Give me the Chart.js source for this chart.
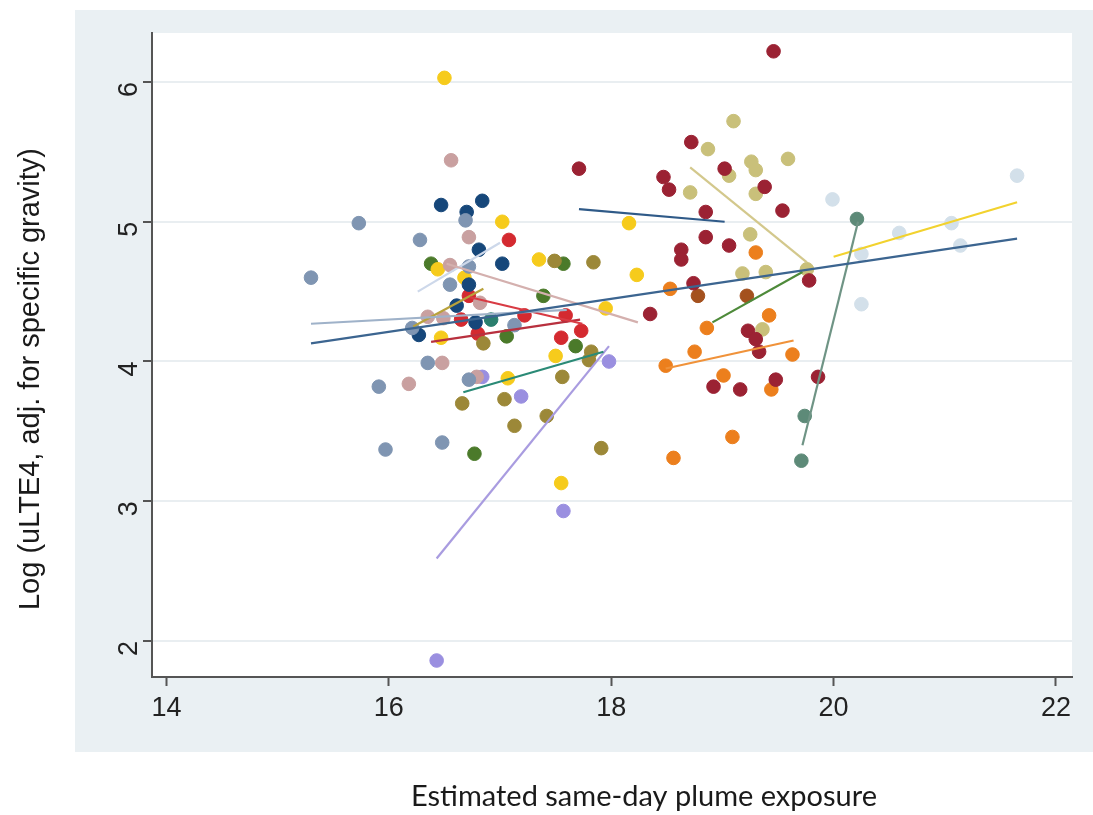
<!DOCTYPE html>
<html>
<head>
<meta charset="utf-8">
<script src="https://cdn.jsdelivr.net/npm/chart.js@4.4.1/dist/chart.umd.min.js"></script>
<style>
  html, body { margin: 0; padding: 0; background: #ffffff; }
  #wrap { width: 1093px; height: 815px; }
</style>
</head>
<body>
<div id="wrap"><canvas id="c" width="1093" height="815"></canvas></div>
<script>
// ---------- DATA ----------
const xTicks = [14, 16, 18, 20, 22];
const yTicks = [2, 3, 4, 5, 6];
const xTitle = 'Estimated same-day plume exposure';
const yTitle = 'Log (uLTE4, adj. for specific gravity)';

// scatter groups
const navyX = [16.47, 16.70, 16.84, 16.81, 17.02, 16.72, 16.61, 16.78, 16.27];
const navyY = [5.12, 5.07, 5.15, 4.80, 4.70, 4.55, 4.40, 4.28, 4.19];
const slateX = [15.73, 16.28, 15.30, 16.55, 16.21, 16.35, 15.91, 15.97, 16.48, 16.72, 17.13, 16.69, 16.72];
const slateY = [4.99, 4.87, 4.60, 4.55, 4.24, 3.99, 3.82, 3.37, 3.42, 3.87, 4.26, 5.01, 4.68];
const roseX = [16.56, 16.72, 16.55, 16.82, 16.35, 16.49, 16.48, 16.18, 16.79];
const roseY = [5.44, 4.89, 4.69, 4.42, 4.32, 4.31, 3.99, 3.84, 3.89];
const goldX = [16.50, 17.02, 17.35, 16.44, 16.68, 16.47, 18.16, 18.23, 17.50, 17.07, 17.55, 17.95];
const goldY = [6.03, 5.00, 4.73, 4.66, 4.60, 4.17, 4.99, 4.62, 4.04, 3.88, 3.13, 4.38];
const redX = [17.08, 16.72, 16.65, 17.22, 16.80, 17.59, 17.73, 17.55];
const redY = [4.87, 4.47, 4.30, 4.33, 4.20, 4.33, 4.22, 4.17];
const greenX = [16.38, 17.57, 17.39, 17.06, 17.68, 16.77];
const greenY = [4.70, 4.70, 4.47, 4.18, 4.11, 3.34];
const tealX = [16.92];
const tealY = [4.30];
const oliveX = [17.49, 17.84, 16.85, 17.82, 17.80, 17.56, 16.66, 17.04, 17.13, 17.42, 17.91];
const oliveY = [4.72, 4.71, 4.13, 4.07, 4.01, 3.89, 3.70, 3.73, 3.54, 3.61, 3.38];
const lavenderX = [16.84, 17.19, 17.98, 17.57, 16.43];
const lavenderY = [3.89, 3.75, 4.00, 2.93, 1.86];
const maroonX = [17.71, 19.46, 18.72, 19.02, 18.47, 18.52, 19.38, 19.54, 18.85, 18.85, 19.06, 18.63, 18.63, 19.78, 18.74, 18.35, 19.23, 19.30, 19.33, 18.92, 19.16, 19.48, 19.86];
const maroonY = [5.38, 6.22, 5.57, 5.38, 5.32, 5.23, 5.25, 5.08, 5.07, 4.89, 4.83, 4.80, 4.73, 4.58, 4.56, 4.34, 4.22, 4.16, 4.07, 3.82, 3.80, 3.87, 3.89];
const khakiX = [19.10, 18.87, 19.26, 19.30, 19.06, 19.59, 18.71, 19.30, 19.25, 19.18, 19.39, 19.76, 19.36];
const khakiY = [5.72, 5.52, 5.43, 5.37, 5.33, 5.45, 5.21, 5.20, 4.91, 4.63, 4.64, 4.66, 4.23];
const orangeX = [19.30, 18.53, 19.42, 18.86, 18.75, 19.63, 18.49, 19.01, 19.44, 19.09, 18.56];
const orangeY = [4.78, 4.52, 4.33, 4.24, 4.07, 4.05, 3.97, 3.90, 3.80, 3.46, 3.31];
const siennaX = [18.78, 19.22];
const siennaY = [4.47, 4.47];
const tealGrayX = [20.21, 19.74, 19.71];
const tealGrayY = [5.02, 3.61, 3.29];
const paleX = [19.99, 20.25, 20.25, 20.59, 21.06, 21.14, 21.65];
const paleY = [5.16, 4.77, 4.41, 4.92, 4.99, 4.83, 5.33];

// fitted lines (endpoints)
const steelLineX = [15.30, 21.65],     steelLineY = [4.13, 4.88];
const lightSteelLineX = [15.30, 17.60], lightSteelLineY = [4.27, 4.37];
const navyLineX = [17.71, 19.02],      navyLineY = [5.09, 5.00];
const khakiLineX = [18.71, 19.76],     khakiLineY = [5.39, 4.71];
const greenLineX = [18.91, 19.72],     greenLineY = [4.28, 4.64];
const tealGrayLineX = [20.22, 19.72],  tealGrayLineY = [5.00, 3.40];
const goldLineX = [20.00, 21.65],      goldLineY = [4.75, 5.14];
const orangeLineX = [18.49, 19.64],    orangeLineY = [3.95, 4.15];
const roseLineX = [16.52, 18.24],      roseLineY = [4.70, 4.28];
const redLineX = [16.73, 17.74],       redLineY = [4.46, 4.27];
const crimsonLineX = [16.38, 17.72],   crimsonLineY = [4.14, 4.30];
const tealLineX = [16.67, 17.93],      tealLineY = [3.78, 4.07];
const lavenderLineX = [16.43, 17.98],  lavenderLineY = [2.59, 4.11];
const paleLineX = [16.26, 17.00],      paleLineY = [4.50, 4.85];
const oliveLineX = [16.22, 16.85],     oliveLineY = [4.25, 4.52];

// ---------- BUILD ----------
const pts = (xs, ys) => xs.map((x, i) => ({ x: x, y: ys[i] }));

const groups = [
  [slateX, slateY, '#7f95b2'],
  [roseX, roseY, '#c9a0a0'],
  [paleX, paleY, '#d3e0ea'],
  [navyX, navyY, '#16477a'],
  [goldX, goldY, '#f6cb1c'],
  [oliveX, oliveY, '#9c8838'],
  [greenX, greenY, '#4b7a2a'],
  [tealX, tealY, '#2a7f6e'],
  [redX, redY, '#d42a30'],
  [lavenderX, lavenderY, '#9a8fe0'],
  [maroonX, maroonY, '#9b2233'],
  [khakiX, khakiY, '#c9c07a'],
  [orangeX, orangeY, '#ec7f1d'],
  [siennaX, siennaY, '#a4511e'],
  [tealGrayX, tealGrayY, '#5d8a78']
];

const lines = [
  [steelLineX, steelLineY, '#3c6590'],
  [lightSteelLineX, lightSteelLineY, '#9fb2c9'],
  [navyLineX, navyLineY, '#2f5a88'],
  [khakiLineX, khakiLineY, '#d3c88c'],
  [greenLineX, greenLineY, '#4e8a3a'],
  [tealGrayLineX, tealGrayLineY, '#6f9485'],
  [goldLineX, goldLineY, '#f2d22e'],
  [orangeLineX, orangeLineY, '#f0923a'],
  [roseLineX, roseLineY, '#d4b0ae'],
  [redLineX, redLineY, '#d83b44'],
  [crimsonLineX, crimsonLineY, '#b8303e'],
  [tealLineX, tealLineY, '#2a8a76'],
  [lavenderLineX, lavenderLineY, '#a99ce0'],
  [paleLineX, paleLineY, '#cdd8ea'],
  [oliveLineX, oliveLineY, '#b9a23c']
];

const datasets = [];
lines.forEach(([xs, ys, c]) => datasets.push({
  data: pts(xs, ys), showLine: true, borderColor: c, borderWidth: 2.2,
  pointRadius: 0, pointHoverRadius: 0, fill: false, order: 0
}));
groups.forEach(([xs, ys, c]) => datasets.push({
  data: pts(xs, ys), backgroundColor: c, borderColor: c, borderWidth: 1,
  pointRadius: 6.8, pointHoverRadius: 6.8, order: 1
}));

const bgPlugin = {
  id: 'bg',
  beforeDraw(chart) {
    const ctx = chart.ctx, a = chart.chartArea;
    ctx.save();
    ctx.fillStyle = '#ffffff';
    ctx.fillRect(0, 0, chart.width, chart.height);
    ctx.fillStyle = '#eaf0f3';
    ctx.fillRect(75, 10, chart.width - 75, 742);
    ctx.fillStyle = '#ffffff';
    ctx.fillRect(a.left, a.top, a.right - a.left, a.bottom - a.top);
    ctx.restore();
  },
  afterDraw(chart) {
    const ctx = chart.ctx;
    ctx.save();
    ctx.fillStyle = '#1a1a1a';
    ctx.textAlign = 'center';
    ctx.textBaseline = 'middle';
    ctx.font = '29px Lato';
    ctx.fillText(xTitle, 644, 797);
    ctx.translate(31, 379);
    ctx.rotate(-Math.PI / 2);
    ctx.font = '29px "Liberation Sans"';
    ctx.fillText(yTitle, 0, 0);
    ctx.restore();
  }
};

new Chart(document.getElementById('c'), {
  type: 'scatter',
  data: { datasets },
  plugins: [bgPlugin],
  options: {
    responsive: false,
    animation: false,
    devicePixelRatio: 1,
    layout: { padding: { left: 0, right: 21, top: 33, bottom: 0 } },
    plugins: { legend: { display: false }, tooltip: { enabled: false } },
    scales: {
      x: {
        type: 'linear', min: 13.87, max: 22.144,
        afterBuildTicks: s => { s.ticks = xTicks.map(v => ({ value: v })); },
        afterFit: s => { s.height = 815 - 677; },
        grid: { drawOnChartArea: false, drawTicks: true, tickLength: 9, tickColor: '#555555', tickWidth: 2 },
        border: { color: '#555555', width: 2 },
        ticks: { color: '#222222', font: { family: '"Liberation Sans"', size: 27 }, padding: 6, maxRotation: 0 }
      },
      y: {
        type: 'linear', min: 1.742, max: 6.351,
        afterBuildTicks: s => { s.ticks = yTicks.map(v => ({ value: v })); },
        afterFit: s => { s.width = 152; },
        grid: { color: '#e9eef1', lineWidth: 2, drawTicks: true, tickLength: 9, tickColor: '#555555', tickWidth: 2 },
        border: { color: '#555555', width: 2 },
        ticks: { color: '#222222', font: { family: '"Liberation Sans"', size: 27 }, padding: 13, minRotation: 90, maxRotation: 90 }
      }
    }
  }
});
</script>
</body>
</html>
